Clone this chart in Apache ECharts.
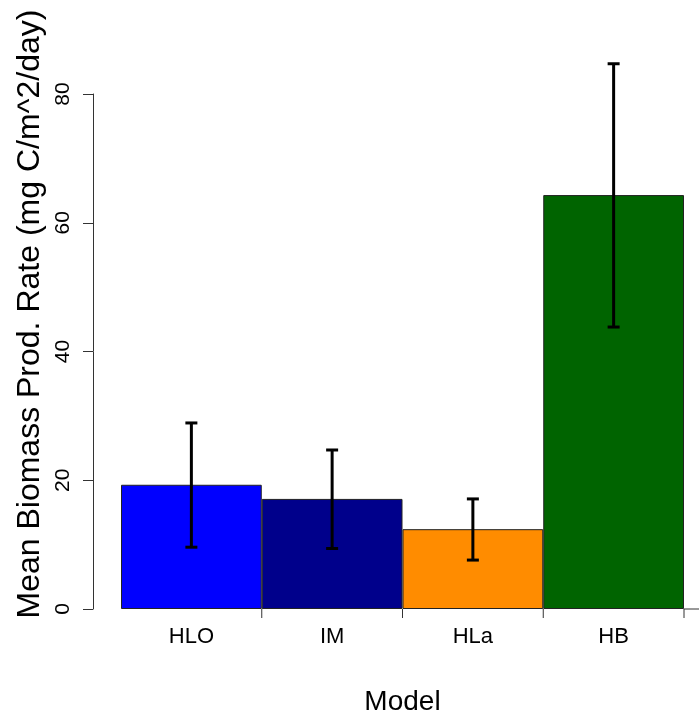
<!DOCTYPE html>
<html>
<head>
<meta charset="utf-8">
<script src="https://cdn.jsdelivr.net/npm/echarts@6/dist/echarts.min.js"></script>
<style>
  html, body { margin: 0; padding: 0; background: #fff; }
  #chart { width: 699px; height: 715px; }
</style>
</head>
<body>
<div id="chart"></div>
<script>
// Mean biomass production rate per model, with error-bar bounds
const models = ['HLO', 'IM', 'HLa', 'HB'];
const meanRate = [19.3, 17.1, 12.4, 64.3];
const errLow = [9.6, 9.4, 7.6, 43.8];
const errHigh = [28.9, 24.7, 17.1, 84.7];
const barColors = ['#0000FF', '#00008B', '#FF8C00', '#006400'];
const yMin = 0, yMax = 80, yStep = 20;

const FONT = "'Liberation Sans', Arial, sans-serif";

const chart = echarts.init(document.getElementById('chart'), null, { renderer: 'canvas' });

// Error bars, x-axis boundary ticks and the trailing axis stub
function renderErr(params, api) {
  const i = api.value(0);
  const lo = api.coord([i, api.value(1)]);
  const hi = api.coord([i, api.value(2)]);
  const base = api.coord([i, 0]);
  const band = api.size([1, 0])[0];
  const capHalf = 6;
  const blk = { stroke: '#000', lineWidth: 3 };
  const children = [
    { type: 'line', shape: { x1: lo[0], y1: lo[1], x2: hi[0], y2: hi[1] }, style: blk },
    { type: 'line', shape: { x1: lo[0] - capHalf, y1: lo[1], x2: lo[0] + capHalf, y2: lo[1] }, style: blk },
    { type: 'line', shape: { x1: hi[0] - capHalf, y1: hi[1], x2: hi[0] + capHalf, y2: hi[1] }, style: blk },
    { type: 'line', shape: { x1: base[0] + band / 2, y1: base[1], x2: base[0] + band / 2, y2: base[1] + 9 },
      style: { stroke: '#333', lineWidth: 1 } }
  ];
  if (i === models.length - 1) {
    children.push({ type: 'line',
      shape: { x1: base[0] + band / 2, y1: base[1], x2: base[0] + band / 2 + 20, y2: base[1] },
      style: { stroke: '#333', lineWidth: 1 } });
  }
  return { type: 'group', children };
}

chart.setOption({
  animation: false,
  backgroundColor: '#fff',
  grid: { left: 121, right: 15, top: 94, bottom: 106, outerBoundsMode: 'none', containLabel: false },
  xAxis: {
    type: 'category',
    data: models,
    boundaryGap: true,
    name: 'Model',
    nameLocation: 'middle',
    nameGap: 79,
    nameTextStyle: { fontFamily: FONT, fontSize: 28, color: '#000' },
    axisLine: { show: false },
    axisTick: { show: false },
    axisLabel: { fontFamily: FONT, fontSize: 22, color: '#000', margin: 17 },
    splitLine: { show: false }
  },
  yAxis: {
    type: 'value',
    min: yMin,
    max: yMax,
    interval: yStep,
    offset: 28,
    axisLine: { show: true, lineStyle: { color: '#333', width: 1 } },
    axisTick: { show: true, length: 10, lineStyle: { color: '#333' } },
    axisLabel: { fontFamily: FONT, fontSize: 21, color: '#000', rotate: 90, margin: 19 },
    splitLine: { show: false }
  },
  graphic: [{
    type: 'text',
    x: 30, y: 314,
    rotation: Math.PI / 2,
    style: {
      text: 'Mean Biomass Prod. Rate (mg C/m^2/day)',
      font: '32px ' + FONT,
      fill: '#000',
      align: 'center',
      verticalAlign: 'middle'
    }
  }],
  series: [
    {
      type: 'bar',
      barCategoryGap: '0%',
      data: meanRate.map((v, k) => ({
        value: v,
        itemStyle: { color: barColors[k], borderColor: '#222', borderWidth: 1 }
      }))
    },
    {
      type: 'custom',
      clip: false,
      z: 5,
      renderItem: renderErr,
      data: models.map((m, k) => [k, errLow[k], errHigh[k]])
    }
  ]
});
</script>
</body>
</html>
